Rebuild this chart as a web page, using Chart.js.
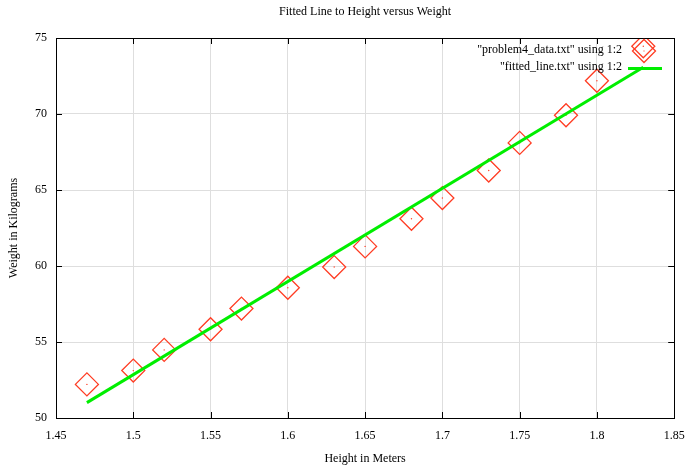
<!DOCTYPE html>
<html>
<head>
<meta charset="utf-8">
<script src="https://cdn.jsdelivr.net/npm/chart.js@4.4.0/dist/chart.umd.min.js"></script>
<style>
html,body{margin:0;padding:0;background:#fff;}
#wrap{width:687px;height:467px;position:relative;}
</style>
</head>
<body>
<div id="wrap"><canvas id="c" width="687" height="467"></canvas></div>
<script>
const heights = [1.47, 1.50, 1.52, 1.55, 1.57, 1.60, 1.63, 1.65, 1.68, 1.70, 1.73, 1.75, 1.78, 1.80, 1.83];
const weights = [52.21, 53.12, 54.48, 55.84, 57.20, 58.57, 59.93, 61.29, 63.11, 64.47, 66.28, 68.10, 69.92, 72.19, 74.46];
const fitHeights = [1.47, 1.83];
const fitWeights = [51.01, 73.07];
const xTicks = [1.45, 1.5, 1.55, 1.6, 1.65, 1.7, 1.75, 1.8, 1.85];
const yTicks = [50, 55, 60, 65, 70, 75];
const titleText = 'Fitted Line to Height versus Weight';
const xTitle = 'Height in Meters';
const yTitle = 'Weight in Kilograms';
const legend1 = '"problem4_data.txt" using 1:2';
const legend2 = '"fitted_line.txt" using 1:2';

const RED = '#ff3d24';
const GREEN = '#00ee00';
const FONT = '"Liberation Serif", "Times New Roman", serif';

const dataPts = heights.map((h, i) => ({x: h, y: weights[i]}));
const fitPts = fitHeights.map((h, i) => ({x: h, y: fitWeights[i]}));

const decor = {
  id: 'decor',
  afterDraw(chart) {
    const ctx = chart.ctx;
    const a = chart.chartArea;
    const xs = chart.scales.x, ys = chart.scales.y;
    ctx.save();
    ctx.strokeStyle = '#000';
    ctx.lineWidth = 1;
    ctx.beginPath();
    xTicks.forEach(v => {
      const px = Math.round(xs.getPixelForValue(v)) + 0.5;
      ctx.moveTo(px, a.bottom); ctx.lineTo(px, a.bottom - 6);
      ctx.moveTo(px, a.top); ctx.lineTo(px, a.top + 6);
    });
    yTicks.forEach(v => {
      const py = Math.round(ys.getPixelForValue(v)) + 0.5;
      ctx.moveTo(a.left, py); ctx.lineTo(a.left + 6, py);
      ctx.moveTo(a.right, py); ctx.lineTo(a.right - 6, py);
    });
    ctx.stroke();
    ctx.strokeRect(Math.round(a.left) + 0.5, Math.round(a.top) + 0.5,
      Math.round(a.right - a.left), Math.round(a.bottom - a.top));
    ctx.fillStyle = '#000';
    ctx.font = '12px ' + FONT;
    ctx.textAlign = 'center';
    ctx.textBaseline = 'middle';
    ctx.fillText(titleText, (a.left + a.right) / 2, 12);
    ctx.textAlign = 'right';
    ctx.fillText(legend1, 622, 50);
    ctx.fillText(legend2, 622, 67);
    const cx = 644, cy = 51, r = 11.5;
    ctx.strokeStyle = RED;
    ctx.lineWidth = 1.3;
    ctx.beginPath();
    ctx.moveTo(cx - r, cy); ctx.lineTo(cx, cy - r); ctx.lineTo(cx + r, cy); ctx.lineTo(cx, cy + r); ctx.closePath();
    ctx.stroke();
    ctx.fillStyle = RED;
    ctx.fillRect(cx - 0.5, cy - 0.5, 1, 1);
    ctx.strokeStyle = GREEN;
    ctx.lineWidth = 3;
    ctx.beginPath();
    ctx.moveTo(628, 68.5); ctx.lineTo(662, 68.5);
    ctx.stroke();
    ctx.restore();
  }
};

new Chart(document.getElementById('c'), {
  type: 'scatter',
  data: {
    datasets: [
      {
        label: legend2,
        data: fitPts,
        showLine: true,
        borderColor: GREEN,
        backgroundColor: GREEN,
        borderWidth: 3,
        pointRadius: 0,
        order: 0
      },
      {
        label: legend1,
        data: dataPts,
        pointStyle: 'rectRot',
        pointRadius: 11.5,
        pointBorderColor: RED,
        pointBackgroundColor: 'rgba(0,0,0,0)',
        pointBorderWidth: 1.3,
        showLine: false,
        order: 1
      },
      {
        label: 'dots',
        data: dataPts,
        pointStyle: 'circle',
        pointRadius: 0.7,
        pointBorderWidth: 0,
        pointBackgroundColor: RED,
        showLine: false,
        order: 2
      }
    ]
  },
  options: {
    responsive: false,
    animation: false,
    layout: { padding: { top: 38, right: 0, left: 0, bottom: 0 } },
    plugins: {
      legend: { display: false },
      tooltip: { enabled: false },
      title: { display: false }
    },
    scales: {
      x: {
        type: 'linear',
        min: 1.45, max: 1.85,
        afterBuildTicks(s) { s.ticks = xTicks.map(v => ({value: v})); },
        afterFit(s) { s.height = 49; s.paddingRight = 12; },
        grid: { color: '#dedede', drawTicks: false, lineWidth: 1 },
        border: { display: false },
        ticks: {
          padding: 11,
          color: '#000',
          font: { family: FONT, size: 12 },
          maxRotation: 0,
          callback: v => String(Math.round(v * 100) / 100)
        },
        title: {
          display: true, text: xTitle, color: '#000',
          font: { family: FONT, size: 12 },
          padding: { top: 4, bottom: 1 }
        }
      },
      y: {
        type: 'linear',
        min: 50, max: 75,
        afterBuildTicks(s) { s.ticks = yTicks.map(v => ({value: v})); },
        afterFit(s) { s.width = 56; },
        grid: { color: '#dedede', drawTicks: false, lineWidth: 1 },
        border: { display: false },
        ticks: {
          padding: 9,
          color: '#000',
          font: { family: FONT, size: 12 },
          callback: v => String(v)
        },
        title: {
          display: true, text: yTitle, color: '#000',
          font: { family: FONT, size: 12 },
          padding: { top: 7, bottom: 4 }
        }
      }
    }
  },
  plugins: [decor]
});
</script>
</body>
</html>
